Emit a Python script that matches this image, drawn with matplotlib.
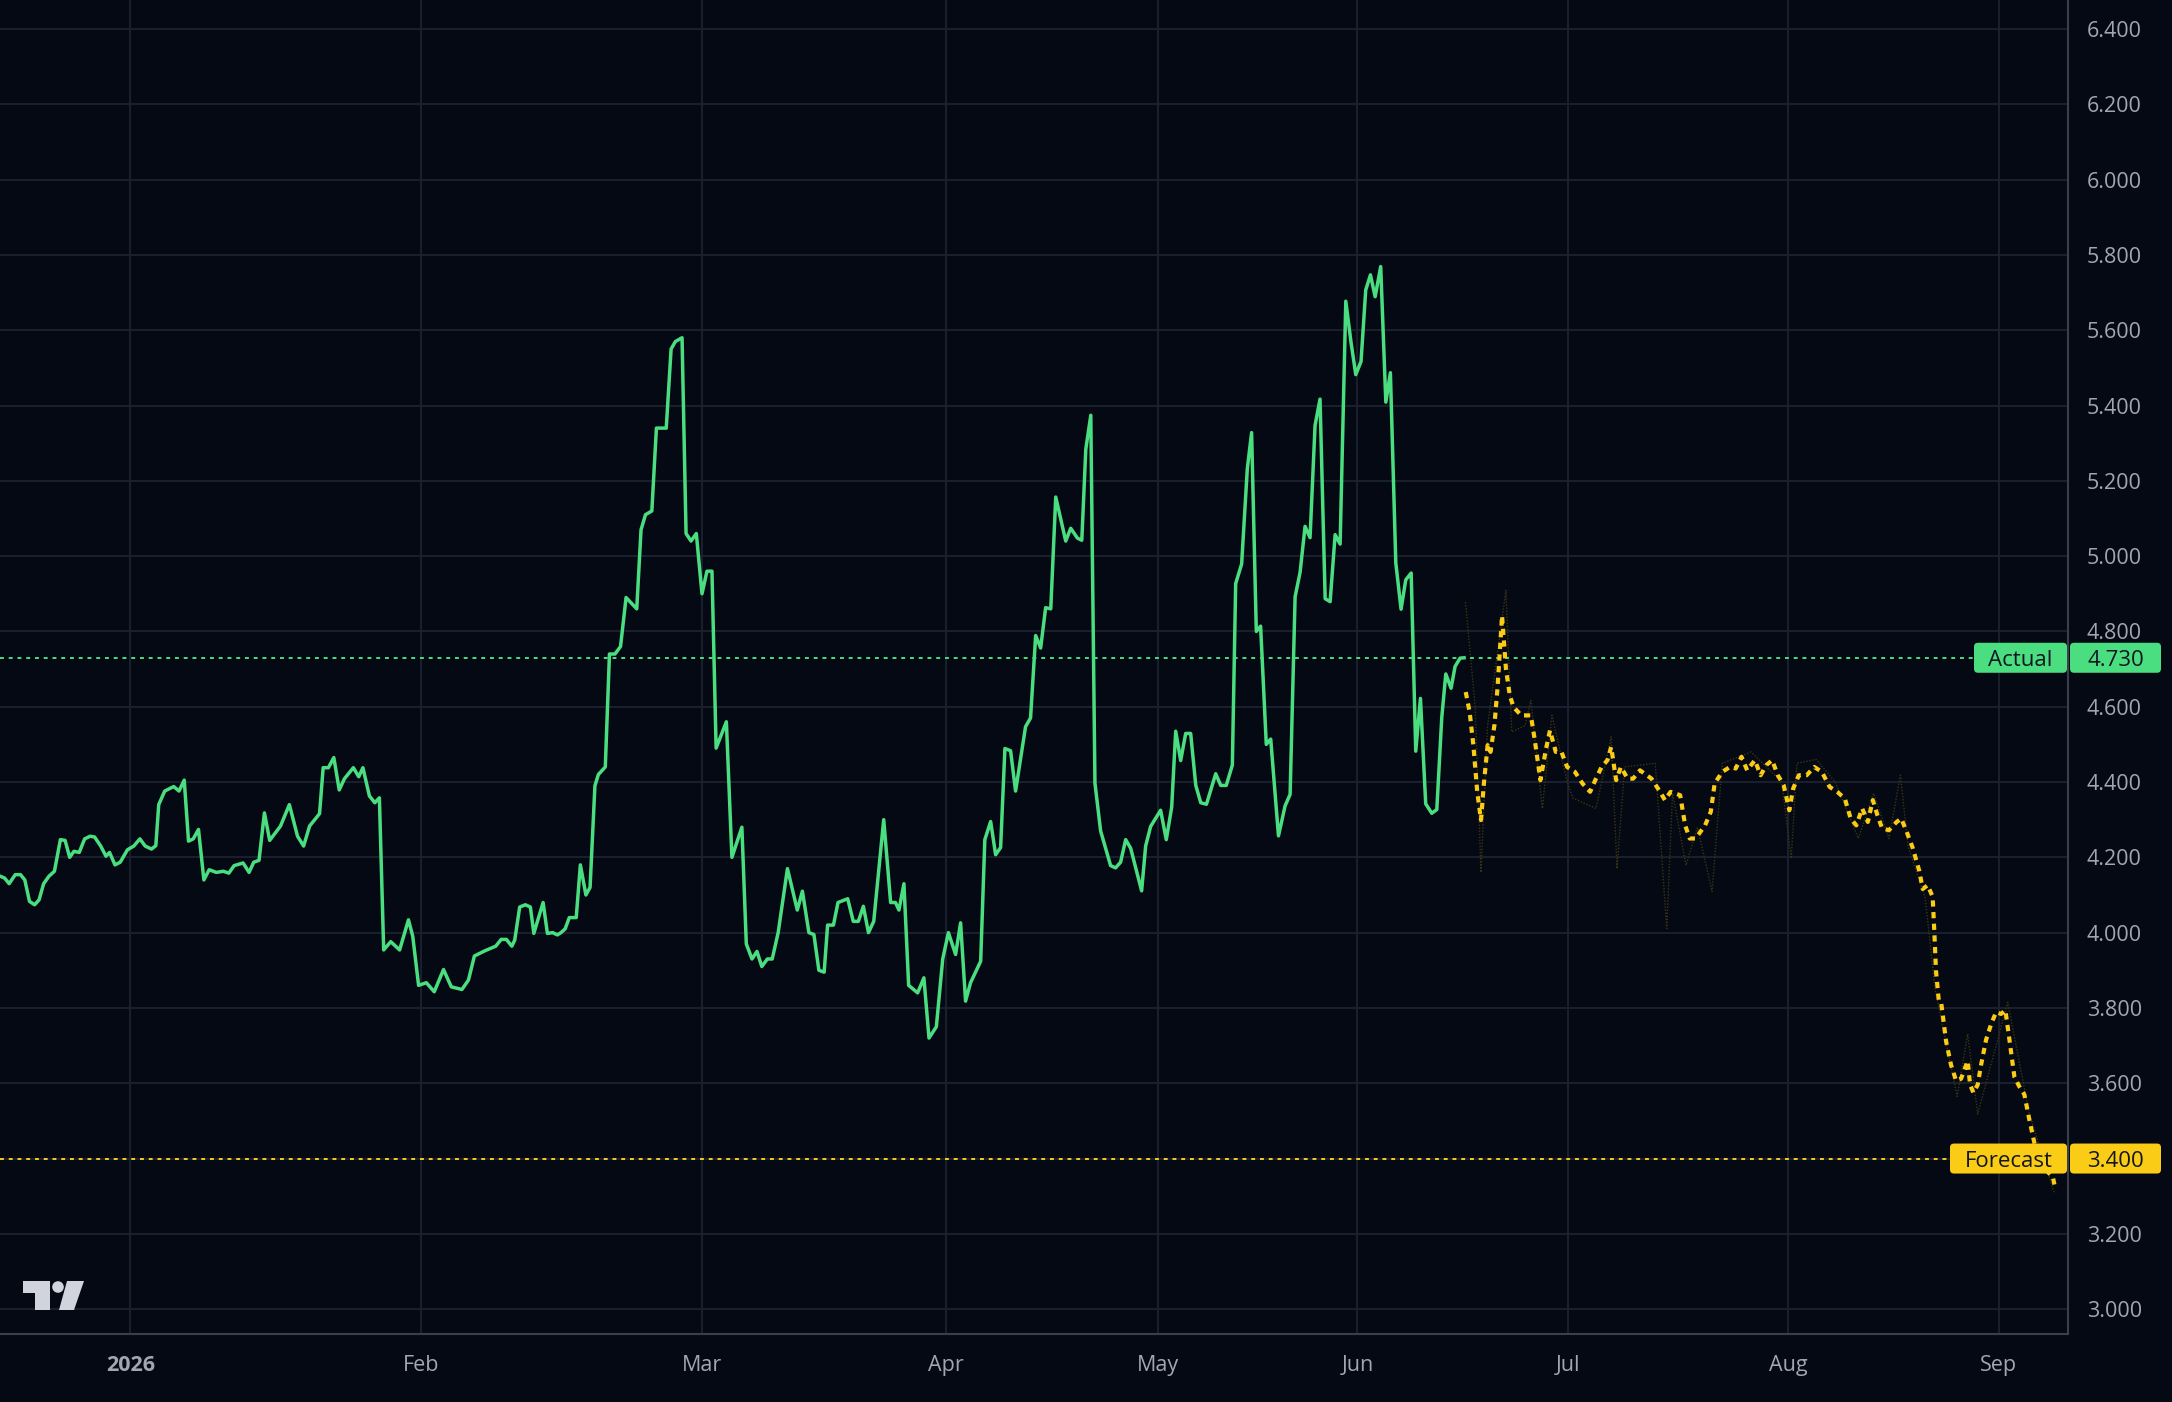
import numpy as np
import matplotlib
matplotlib.use("Agg")
import matplotlib.pyplot as plt
from matplotlib.patches import FancyBboxPatch, Circle, Polygon
from matplotlib.transforms import IdentityTransform
from matplotlib.ticker import FormatStrFormatter

# bar index (chart positions) and values
actual_bar = [0.0, 0.66, 1.32, 2.2, 2.96, 3.58, 4.26, 5.0, 5.64, 6.3, 7.08, 7.86, 8.72, 9.4,
              10.06, 10.68, 11.44, 12.22, 13.0, 13.66, 14.54, 15.3, 15.82, 16.6, 17.36, 18.4,
              19.32, 20.2, 20.96, 21.88, 22.5, 22.92, 23.78, 25.08, 25.84, 26.6, 27.22, 27.9,
              28.66, 29.44, 30.2, 31.24, 32.26, 33.04, 33.8, 35.1, 35.96, 36.64, 37.4, 38.18,
              38.94, 40.5, 41.78, 42.96, 43.84, 44.7, 46.14, 46.66, 47.42, 48.2, 48.98, 49.74,
              51.02, 51.8, 52.4, 53.34, 54.12, 54.78, 55.4, 56.42, 57.7, 58.98, 59.6, 60.44,
              61.56, 62.7, 64.04, 65.16, 66.7, 67.64, 68.5, 70.04, 71.58, 72.36, 73.12, 73.9,
              74.32, 75.04, 75.86, 76.58, 77.08, 78.42, 79.04, 79.8, 80.48, 81.0, 81.6, 82.2,
              83.2, 83.8, 84.6, 85.2, 85.9, 86.4, 87.4, 88.0, 88.8, 89.6, 90.4, 91.94, 92.56,
              93.2, 94.12, 94.78, 96.2, 96.9, 97.52, 98.48, 99.06, 99.78, 100.54, 101.36, 102.08,
              102.8, 103.4, 104.88, 105.68, 107.12, 107.76, 108.58, 109.3, 110.0, 110.8, 111.5,
              112.36, 113.7, 115.12, 115.86, 116.8, 117.52, 118.24, 119.0, 119.5, 120.34, 121.0,
              122.4, 123.2, 123.94, 124.66, 125.4, 126.16, 127.6, 128.6, 129.3, 129.8, 130.52,
              131.2, 132.5, 133.4, 134.14, 135.2, 136.12, 136.94, 137.98, 138.7, 139.42, 140.14,
              141.6, 142.2, 143.04, 143.76, 144.48, 145.1, 145.92, 146.64, 148.08, 148.8, 149.54,
              150.26, 150.98, 151.72, 152.44, 153.88, 154.6, 155.56, 156.2, 156.78, 157.5, 158.1,
              158.92, 160.36, 161.08, 161.8, 162.54, 163.26, 164.84, 165.42, 166.14, 167.58,
              168.4, 169.18, 169.76, 170.48, 171.2, 171.92, 172.66, 173.38, 174.2, 175.54,
              176.26, 177.06, 177.94, 178.42, 179.28, 180.1, 180.72, 181.4, 182.02, 182.84,
              183.48, 184.6, 185.56, 186.28, 187.0, 187.72, 188.44, 189.16, 189.88, 190.6,
              191.34, 192.06, 192.78, 193.5, 194.32, 195.08, 195.76, 196.52, 197.2, 197.88,
              198.56, 199.36, 200.1, 200.76, 201.54, 202.3, 202.98, 203.76, 204.42, 205.1,
              205.86, 206.74, 207.46, 208.18, 208.76, 209.52, 210.1, 210.82, 211.4]
actual_value = [4.15, 4.145, 4.13, 4.154, 4.154, 4.14, 4.083, 4.074, 4.087, 4.13, 4.15, 4.163,
                4.247, 4.245, 4.2, 4.216, 4.213, 4.249, 4.256, 4.254, 4.23, 4.203, 4.213, 4.18,
                4.187, 4.22, 4.23, 4.249, 4.23, 4.222, 4.231, 4.34, 4.376, 4.388, 4.376, 4.405,
                4.243, 4.249, 4.274, 4.14, 4.167, 4.16, 4.163, 4.158, 4.178, 4.185, 4.16, 4.187,
                4.192, 4.318, 4.245, 4.283, 4.34, 4.256, 4.23, 4.283, 4.316, 4.438, 4.438, 4.465,
                4.379, 4.409, 4.438, 4.414, 4.438, 4.363, 4.345, 4.358, 3.954, 3.976, 3.954,
                4.034, 3.99, 3.86, 3.867, 3.843, 3.902, 3.856, 3.849, 3.874, 3.938, 3.952, 3.964,
                3.982, 3.982, 3.964, 3.98, 4.068, 4.074, 4.068, 3.998, 4.08, 3.998, 4.0, 3.994,
                4.0, 4.01, 4.04, 4.04, 4.18, 4.1, 4.12, 4.39, 4.42, 4.44, 4.74, 4.74, 4.76, 4.89,
                4.86, 5.07, 5.11, 5.12, 5.34, 5.34, 5.55, 5.57, 5.58, 5.06, 5.04, 5.06, 4.9, 4.96,
                4.96, 4.49, 4.56, 4.2, 4.28, 3.97, 3.93, 3.95, 3.91, 3.93, 3.93, 4.0, 4.17, 4.06,
                4.11, 4.0, 3.995, 3.9, 3.895, 4.02, 4.02, 4.08, 4.09, 4.03, 4.03, 4.07, 4.0, 4.03,
                4.3, 4.08, 4.08, 4.06, 4.13, 3.86, 3.84, 3.88, 3.72, 3.75, 3.93, 4.0, 3.942,
                4.026, 3.818, 3.867, 3.924, 4.247, 4.295, 4.207, 4.226, 4.489, 4.483, 4.376,
                4.547, 4.57, 4.789, 4.756, 4.863, 4.86, 5.157, 5.04, 5.074, 5.048, 5.042, 5.284,
                5.374, 4.397, 4.27, 4.178, 4.172, 4.187, 4.247, 4.224, 4.111, 4.23, 4.282, 4.325,
                4.247, 4.333, 4.535, 4.457, 4.529, 4.529, 4.391, 4.345, 4.341, 4.422, 4.391,
                4.391, 4.445, 4.927, 4.979, 5.232, 5.328, 4.8, 4.814, 4.5, 4.514, 4.257, 4.337,
                4.367, 4.892, 4.957, 5.079, 5.049, 5.347, 5.417, 4.887, 4.879, 5.057, 5.032,
                5.677, 5.567, 5.482, 5.517, 5.707, 5.747, 5.689, 5.769, 5.409, 5.487, 4.982,
                4.859, 4.937, 4.955, 4.482, 4.622, 4.342, 4.317, 4.327, 4.572, 4.687, 4.649,
                4.707, 4.729, 4.73]

forecast_bar = [211.64, 212.2, 212.74, 213.3, 213.84, 214.24, 214.8, 215.22, 215.78, 216.22,
                216.62, 216.88, 217.44, 218.0, 218.54, 219.66, 221.04, 221.58, 222.42, 223.24,
                223.8, 224.64, 225.46, 226.28, 227.4, 228.5, 229.6, 230.44, 231.26, 232.1,
                232.64, 233.36, 234.04, 235.02, 235.8, 236.8, 238.46, 239.56, 240.4, 241.22,
                242.6, 243.32, 243.98, 244.82, 246.2, 247.02, 247.58, 248.68, 249.8, 250.62,
                251.46, 252.28, 253.38, 254.22, 255.04, 255.88, 256.7, 257.54, 258.36, 258.92,
                259.74, 260.86, 261.96, 263.06, 264.18, 265.28, 266.38, 267.22, 268.04, 268.88,
                269.7, 270.42, 271.08, 271.76, 272.74, 273.86, 274.52, 275.22, 276.18, 277.14,
                277.62, 278.34, 279.06, 279.3, 279.54, 279.94, 280.28, 281.0, 281.72, 282.44,
                283.16, 283.88, 284.12, 284.46, 284.94, 285.56, 286.04, 286.78, 287.5, 288.22,
                288.94, 289.56, 290.14, 290.86, 291.58, 292.3, 293.02, 293.52, 294.0, 295.44,
                296.4, 296.64]
forecast_value = [4.639, 4.586, 4.498, 4.374, 4.299, 4.392, 4.498, 4.48, 4.551, 4.648, 4.763,
                  4.842, 4.701, 4.63, 4.599, 4.577, 4.577, 4.515, 4.405, 4.489, 4.537, 4.48,
                  4.48, 4.44, 4.427, 4.396, 4.374, 4.409, 4.44, 4.458, 4.493, 4.405, 4.44, 4.409,
                  4.409, 4.431, 4.409, 4.378, 4.352, 4.374, 4.365, 4.285, 4.25, 4.25, 4.285,
                  4.321, 4.396, 4.427, 4.44, 4.436, 4.467, 4.431, 4.458, 4.418, 4.445, 4.458,
                  4.418, 4.392, 4.325, 4.383, 4.418, 4.418, 4.44, 4.427, 4.387, 4.374, 4.356,
                  4.303, 4.285, 4.33, 4.294, 4.352, 4.312, 4.277, 4.272, 4.294, 4.303, 4.272,
                  4.225, 4.163, 4.116, 4.126, 4.095, 4.002, 3.898, 3.82, 3.815, 3.711, 3.648,
                  3.607, 3.612, 3.648, 3.659, 3.596, 3.575, 3.596, 3.648, 3.716, 3.757, 3.789,
                  3.784, 3.794, 3.716, 3.617, 3.591, 3.57, 3.503, 3.461, 3.42, 3.368, 3.352,
                  3.331]

# faint raw forecast drawn under the smoothed one
raw_bar = [211.6, 213.0, 213.84, 214.8, 217.44, 218.28, 220.2, 221.04, 222.7, 224.08, 226.28,
           227.12, 230.44, 232.64, 233.48, 234.58, 239.0, 240.66, 241.5, 243.44, 245.1, 247.2,
           248.68, 252.84, 257.26, 258.64, 259.46, 262.24, 265.0, 268.32, 270.52, 272.74,
           274.4, 275.5, 278.0, 279.4, 282.6, 284.12, 285.56, 289.9, 293.0, 296.6]
raw_value = [4.878, 4.6, 4.16, 4.55, 4.909, 4.533, 4.55, 4.617, 4.33, 4.577, 4.4, 4.357, 4.33,
             4.52, 4.17, 4.44, 4.45, 4.011, 4.37, 4.179, 4.28, 4.109, 4.45, 4.48, 4.4, 4.197,
             4.45, 4.46, 4.4, 4.25, 4.37, 4.25, 4.418, 4.23, 4.09, 3.85, 3.565, 3.731, 3.518,
             3.815, 3.52, 3.31]

month_bar = [18.8, 60.8, 101.4, 136.6, 167.2, 196.0, 226.4, 258.2, 288.6]
month_labels = ['2026', 'Feb', 'Mar', 'Apr', 'May', 'Jun', 'Jul', 'Aug', 'Sep']

actual_last = 4.730
forecast_last = 3.400

BG = '#040914'
GRID = '#1d2231'
GREEN = '#4ade80'
YELLOW = '#facc15'
TEXT = '#a3a6af'

plt.rcParams['font.family'] = ['Open Sans', 'DejaVu Sans']

W, H = 2172, 1402
fig = plt.figure(figsize=(W / 100, H / 100), dpi=100, facecolor=BG)
ax = fig.add_axes([0, 68 / H, 2068 / W, 1334 / H], facecolor=BG)

ax.set_xlim(0, 298.6)
ax.set_ylim(2.934, 6.477)

ax.plot(raw_bar, raw_value, color='#3b3512', lw=1.0, ls=(0, (1, 1.2)), zorder=2)
ax.plot(actual_bar, actual_value, color=GREEN, lw=2.5, zorder=3)
ax.plot(forecast_bar, forecast_value, color=YELLOW, lw=3.0, ls=(0, (1.5, 1.3)), zorder=3)

ax.axhline(actual_last, color=GREEN, lw=1.4, ls=(0, (2, 2.5)), zorder=2)
ax.axhline(forecast_last, color=YELLOW, lw=1.4, ls=(0, (2, 2.5)), zorder=2)

ax.set_yticks(np.round(np.arange(3.0, 6.41, 0.2), 1))
ax.yaxis.set_major_formatter(FormatStrFormatter('%.3f'))
ax.yaxis.tick_right()
ax.set_xticks(month_bar)
ax.set_xticklabels(month_labels)
ax.tick_params(length=0, colors=TEXT, labelsize=15.5)
ax.tick_params(axis='y', pad=13.5)
ax.tick_params(axis='x', pad=15)
ax.get_xticklabels()[0].set_fontweight('bold')
ax.grid(True, color=GRID, lw=1.3)
ax.set_axisbelow(True)

for side in ['top', 'left']:
    ax.spines[side].set_visible(False)
for side in ['right', 'bottom']:
    ax.spines[side].set_color('#3a3f4c')
    ax.spines[side].set_linewidth(1.5)


def price_tag(value, name, color, name_w):
    y = ax.transData.transform((0, value))[1]
    h = 30
    right = 2067
    fig.patches.append(FancyBboxPatch((right - name_w, y - h / 2), name_w, h,
                                      boxstyle='round,pad=0,rounding_size=4',
                                      transform=IdentityTransform(), fc=color, ec='none'))
    fig.patches.append(FancyBboxPatch((2070, y - h / 2), 91, h,
                                      boxstyle='round,pad=0,rounding_size=4',
                                      transform=IdentityTransform(), fc=color, ec='none'))
    fig.text((right - name_w / 2) / W, y / H, name, color='#131722', fontsize=16,
             ha='center', va='center_baseline')
    fig.text((2070 + 45.5) / W, y / H, f'{value:.3f}', color='#131722', fontsize=16,
             ha='center', va='center_baseline')


price_tag(actual_last, 'Actual', GREEN, 93)
price_tag(forecast_last, 'Forecast', YELLOW, 117)


# TradingView watermark, in figure pixels
def px(x, y):
    return (x, H - y)


logo = '#d1d4dc'
fig.patches.append(Polygon([px(23, 1281), px(50, 1281), px(50, 1310), px(35, 1310), px(35, 1293),
                            px(23, 1293)], closed=True, transform=IdentityTransform(),
                           fc=logo, ec='none'))
fig.patches.append(Circle(px(58, 1287), 5.8, transform=IdentityTransform(), fc=logo, ec='none'))
fig.patches.append(Polygon([px(67, 1281), px(84, 1281), px(74, 1310), px(59, 1310)], closed=True,
                           transform=IdentityTransform(), fc=logo, ec='none'))

fig.savefig('out.png', dpi=100, facecolor=BG)
